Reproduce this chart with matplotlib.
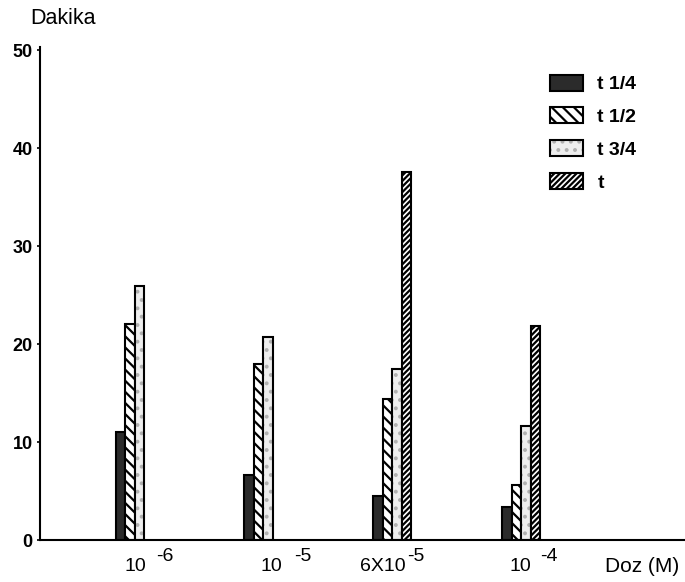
import numpy as np
import matplotlib.pyplot as plt
from matplotlib.patches import Patch

plt.rcParams['font.family'] = ['Liberation Sans', 'DejaVu Sans']
plt.rcParams['hatch.linewidth'] = 1.6

doses = ['10', '10', '6X10', '10']
exps = ['-6', '-5', '-5', '-4']
series = ['t 1/4', 't 1/2', 't 3/4', 't']
t14 = [11.0, 6.6, 4.5, 3.4]
t12 = [22.1, 18.0, 14.4, 5.6]
t34 = [25.9, 20.7, 17.5, 11.6]
t_full = [0, 0, 37.6, 21.8]
yticks = [0, 10, 20, 30, 40, 50]

# (fill, hatch, hatch colour)
styles = [
    ('#2b2b2b', None, 'black'),
    ('white', '\\\\\\', 'black'),
    ('#eeeeee', '..', '#b0b0b0'),
    ('white', '//////', 'black'),
]

fig = plt.figure(figsize=(6.85, 5.82), dpi=100)
ax = fig.add_axes([0.058, 0.072, 0.94, 0.847])

x = np.arange(len(doses))
w = 0.074
offsets = [-1.5 * w, -0.5 * w, 0.5 * w, 1.5 * w]
for vals, (fc, hatch, hc), off in zip([t14, t12, t34, t_full], styles, offsets):
    xs = [xi + off for xi, v in zip(x, vals) if v > 0]
    vs = [v for v in vals if v > 0]
    ax.bar(xs, vs, width=w, facecolor=fc, hatch=hatch, edgecolor=hc, linewidth=0)
    ax.bar(xs, vs, width=w, fill=False, edgecolor='black', linewidth=1.5)

ax.set_xlim(-0.736, 4.26)
ax.set_ylim(0, 50.3)
ax.set_yticks(yticks)
ax.set_yticklabels([str(v) for v in yticks], fontweight='bold', fontsize=13)
ax.tick_params(axis='y', length=2, width=1.2, pad=3)
ax.set_xticks([])
for side in ['top', 'right']:
    ax.spines[side].set_visible(False)
for side in ['left', 'bottom']:
    ax.spines[side].set_linewidth(1.5)

# x labels: base and raised exponent, offsets in pixels from group centre
anchor = [12, 19, 13, 10]
gap = [10, 12, 2, 9]
for xi, base, ex, a, g in zip(x, doses, exps, anchor, gap):
    ax.annotate(base, (xi, 0), xytext=(a, -26), textcoords='offset pixels',
                ha='right', va='center', fontsize=14)
    ax.annotate(ex, (xi, 0), xytext=(a + g, -16), textcoords='offset pixels',
                ha='left', va='center', fontsize=14)

ax.annotate('Doz (M)', (1, 0), xycoords='axes fraction', xytext=(-4, -26),
            textcoords='offset pixels', ha='right', va='center', fontsize=15)
fig.text(0.044, 0.968, 'Dakika', fontsize=15.5, ha='left', va='center')

handles = []
for fc, hatch, hc in styles:
    handles.append((Patch(facecolor=fc, hatch=hatch, edgecolor=hc, linewidth=0),
                    Patch(fill=False, edgecolor='black', linewidth=1.5)))
ax.legend(handles, series, loc='upper left', bbox_to_anchor=(0.765, 0.98),
          frameon=False, prop={'weight': 'bold', 'size': 14},
          handlelength=1.7, handleheight=0.9, labelspacing=0.72, handletextpad=0.75)

fig.savefig('out.png', dpi=100)
